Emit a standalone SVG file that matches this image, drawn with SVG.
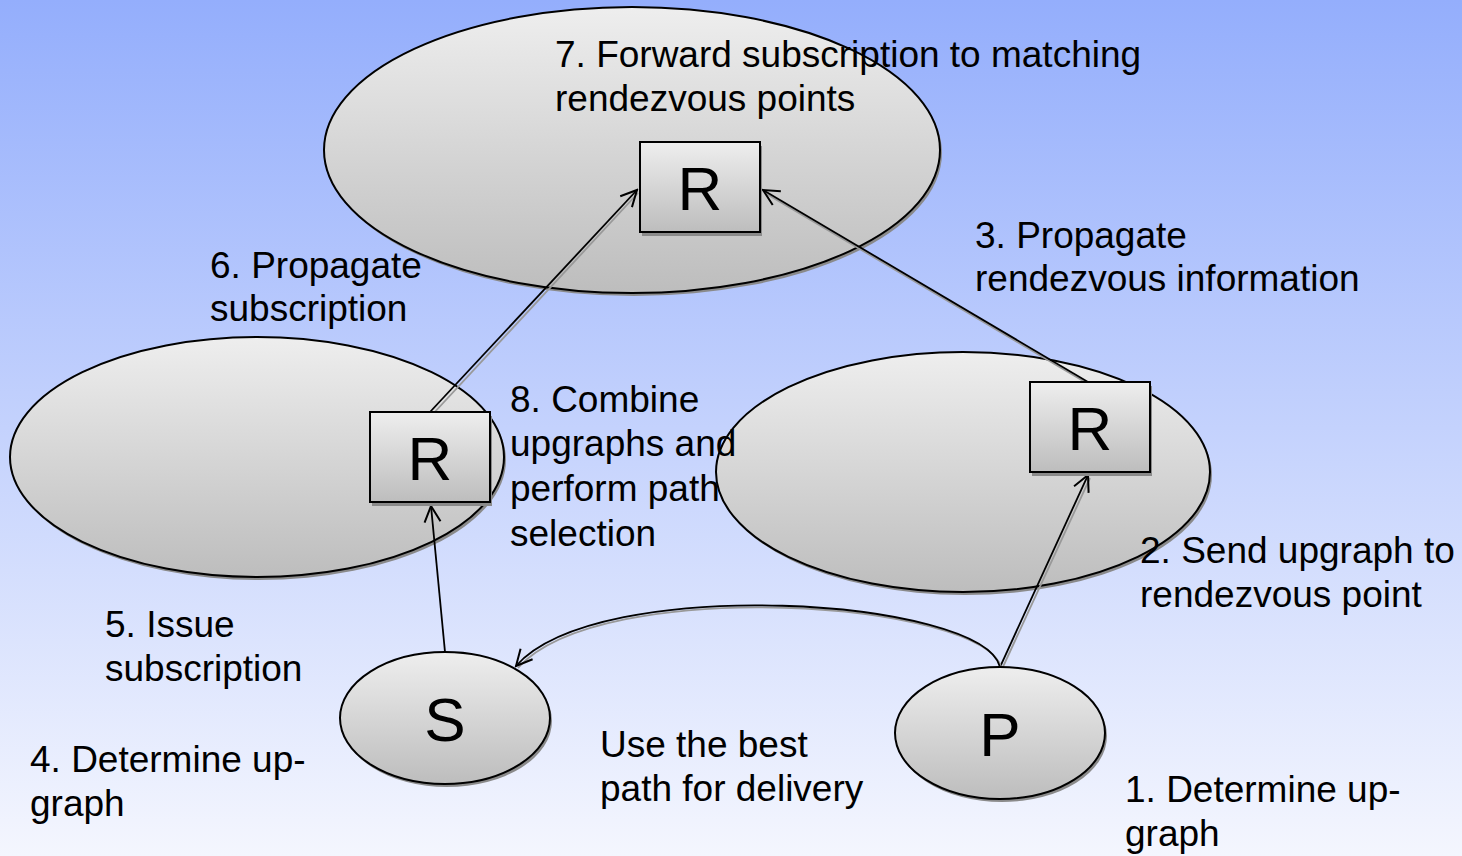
<svg xmlns="http://www.w3.org/2000/svg" width="1462" height="856" viewBox="0 0 1462 856">
<defs>
<linearGradient id="bg" x1="0" y1="0" x2="0" y2="1">
<stop offset="0" stop-color="#94aefc"/>
<stop offset="1" stop-color="#f4f6fe"/>
</linearGradient>
<linearGradient id="nf" x1="0" y1="0" x2="0" y2="1">
<stop offset="0" stop-color="#eeeeee"/>
<stop offset="1" stop-color="#bdbdbd"/>
</linearGradient>
<marker id="ah" viewBox="0 0 20 20" refX="18" refY="10" markerWidth="20" markerHeight="20" markerUnits="userSpaceOnUse" orient="auto">
<path d="M2,2 L18,10 L2,18" fill="none" stroke="#000" stroke-width="2"/>
</marker>
<style>
.n{fill:url(#nf);stroke:#000;stroke-width:2}
.sh{fill:#8a8a8a}
.t{font-family:"Liberation Sans",Arial,sans-serif;font-size:37px;fill:#000}
.big{font-family:"Liberation Sans",Arial,sans-serif;font-size:62px;fill:#000;text-anchor:middle}
.c{fill:none;stroke:#000;stroke-width:1.8}
.cs{fill:none;stroke:#999;stroke-width:1.8}
</style>
</defs>
<rect width="1462" height="856" fill="url(#bg)"/>

<g id="cluster-top">
<ellipse class="sh" cx="634" cy="153" rx="308" ry="143"/>
<ellipse class="n" cx="632" cy="150" rx="308" ry="143"/>
</g>
<g id="cluster-left">
<ellipse class="sh" cx="259" cy="460" rx="247" ry="120"/>
<ellipse class="n" cx="257" cy="457" rx="247" ry="120"/>
</g>
<g id="cluster-right">
<ellipse class="sh" cx="965" cy="475" rx="247" ry="120"/>
<ellipse class="n" cx="963" cy="472" rx="247" ry="120"/>
</g>

<g id="connectors">
<line class="cs" x1="432" y1="415" x2="638" y2="193"/>
<line class="c" x1="430" y1="412" x2="637" y2="190" marker-end="url(#ah)"/>
<line class="cs" x1="1090" y1="385" x2="765" y2="193"/>
<line class="c" x1="1088" y1="382" x2="763" y2="190" marker-end="url(#ah)"/>
<line class="c" x1="445" y1="652" x2="431" y2="506" marker-end="url(#ah)"/>
<line class="cs" x1="1002" y1="669" x2="1090" y2="478"/>
<line class="c" x1="1000" y1="667" x2="1088" y2="475" marker-end="url(#ah)"/>
<path class="cs" d="M1002,669 C985,600 600,575 518,668"/>
<path class="c" d="M1000,667 C983,598 598,573 516,666" marker-end="url(#ah)"/>
</g>

<g id="node-R-top">
<rect class="sh" x="642" y="146" width="120" height="90"/>
<rect class="n" x="640" y="142" width="120" height="90"/>
<text class="big" x="700" y="210">R</text>
</g>
<g id="node-R-left">
<rect class="sh" x="372" y="416" width="120" height="90"/>
<rect class="n" x="370" y="412" width="120" height="90"/>
<text class="big" x="430" y="480">R</text>
</g>
<g id="node-R-right">
<rect class="sh" x="1032" y="386" width="120" height="90"/>
<rect class="n" x="1030" y="382" width="120" height="90"/>
<text class="big" x="1090" y="450">R</text>
</g>
<g id="node-S">
<ellipse class="sh" cx="447" cy="721" rx="105" ry="66"/>
<ellipse class="n" cx="445" cy="718" rx="105" ry="66"/>
<text class="big" x="445" y="741">S</text>
</g>
<g id="node-P">
<ellipse class="sh" cx="1002" cy="736" rx="105" ry="66"/>
<ellipse class="n" cx="1000" cy="733" rx="105" ry="66"/>
<text class="big" x="1000" y="756">P</text>
</g>

<g id="labels">
<text class="t" x="555" y="67">7. Forward subscription to matching</text>
<text class="t" x="555" y="111">rendezvous points</text>
<text class="t" x="210" y="278">6. Propagate</text>
<text class="t" x="210" y="321">subscription</text>
<text class="t" x="975" y="248">3. Propagate</text>
<text class="t" x="975" y="291">rendezvous information</text>
<text class="t" x="510" y="412">8. Combine</text>
<text class="t" x="510" y="456">upgraphs and</text>
<text class="t" x="510" y="501">perform path</text>
<text class="t" x="510" y="546">selection</text>
<text class="t" x="1140" y="563">2. Send upgraph to</text>
<text class="t" x="1140" y="607">rendezvous point</text>
<text class="t" x="105" y="637">5. Issue</text>
<text class="t" x="105" y="681">subscription</text>
<text class="t" x="30" y="772">4. Determine up-</text>
<text class="t" x="30" y="816">graph</text>
<text class="t" x="600" y="757">Use the best</text>
<text class="t" x="600" y="801">path for delivery</text>
<text class="t" x="1125" y="802">1. Determine up-</text>
<text class="t" x="1125" y="846">graph</text>
</g>
</svg>
